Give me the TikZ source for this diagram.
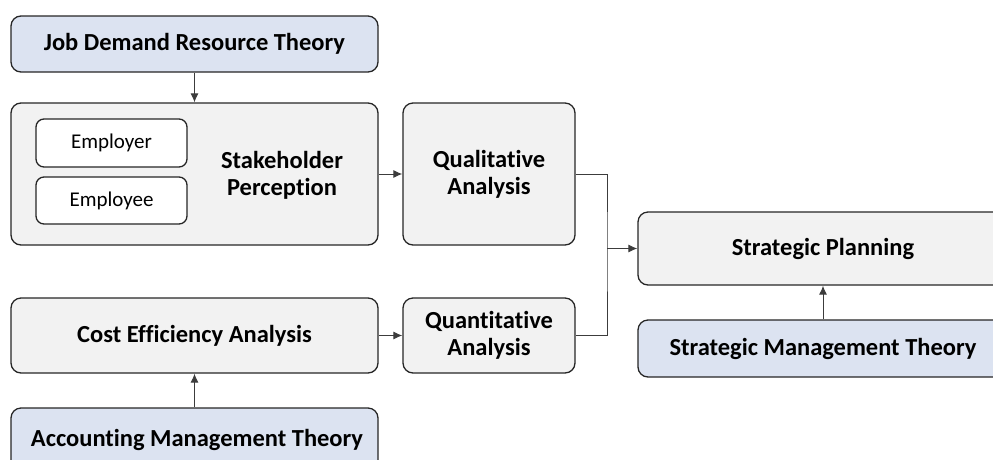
\documentclass[tikz,border=0pt]{standalone}
\usepackage{fontspec}
\setmainfont{Carlito}[Ligatures=NoCommon]
\usetikzlibrary{arrows.meta}
\definecolor{theoryfill}{HTML}{DCE3F1}
\definecolor{stagefill}{HTML}{F2F2F2}
\definecolor{edgecol}{HTML}{262626}
\definecolor{linkcol}{HTML}{3C3C3C}
\tikzset{
  boldtext/.style={font=\fontsize{24.5}{27}\selectfont\bfseries},
  box/.style={draw=edgecol, line width=1.3pt, rounded corners=10pt,
    inner sep=0pt, align=center, boldtext},
  theory/.style={box, fill=theoryfill},
  stage/.style={box, fill=stagefill},
  role/.style={draw=edgecol, line width=1.3pt, rounded corners=8pt, fill=white,
    inner sep=0pt, minimum width=151pt, font=\fontsize{21}{24}\selectfont},
  link/.style={draw=linkcol, line width=1pt},
  flow/.style={link, -{Latex[length=9pt,width=8pt]}}
}
\begin{document}
\begin{tikzpicture}[x=1pt, y=-1pt]
  \useasboundingbox (0,0) rectangle (993,459);
  \clip (0,0) rectangle (993,459);

  % left column
  \node[theory, minimum width=367pt, minimum height=56pt] (jdr) at (194.5,44) {Job Demand Resource Theory};
  \node[stage, minimum width=367pt, minimum height=142pt] (stake) at (194.5,174) {};
  \node[role, minimum height=48pt] (employer) at (111.5,143) {Employer};
  \node[role, minimum height=47pt] (employee) at (111.5,200.5) {Employee};
  \node[align=center, inner sep=0pt, boldtext] (stakelbl) at (282,175) {Stakeholder\\Perception};
  \node[stage, minimum width=367pt, minimum height=75pt] (cost) at (194.5,335.5) {Cost Efficiency Analysis};
  \node[theory, minimum width=367pt, minimum height=68pt] (amt) at (194.5,442) {};
  \node[inner sep=0pt, boldtext] (amtlbl) at (197,440) {Accounting Management Theory};

  % analysis column
  \node[stage, minimum width=172pt, minimum height=142pt] (qual) at (489,174) {Qualitative\\Analysis};
  \node[stage, minimum width=172pt, minimum height=75pt] (quant) at (489,335.5) {Quantitative\\Analysis};

  % planning column
  \node[stage, minimum width=370pt, minimum height=73pt] (sp) at (823,248.5) {Strategic Planning};
  \node[theory, minimum width=370pt, minimum height=57pt] (smt) at (823,348.5) {Strategic Management Theory};

  % connectors
  \draw[flow] (jdr.south) -- (stake.north);
  \draw[flow] (stake.east) -- (qual.west);
  \draw[flow] (cost.east) -- (quant.west);
  \draw[flow] (amt.north) -- (cost.south);
  \draw[flow] (smt.north) -- (sp.south);
  \coordinate (join) at (607,248.5);
  \draw[link] (qual.east) -| (join) |- (quant.east);
  \draw[flow] (join) -- (sp.west);
\end{tikzpicture}
\end{document}
